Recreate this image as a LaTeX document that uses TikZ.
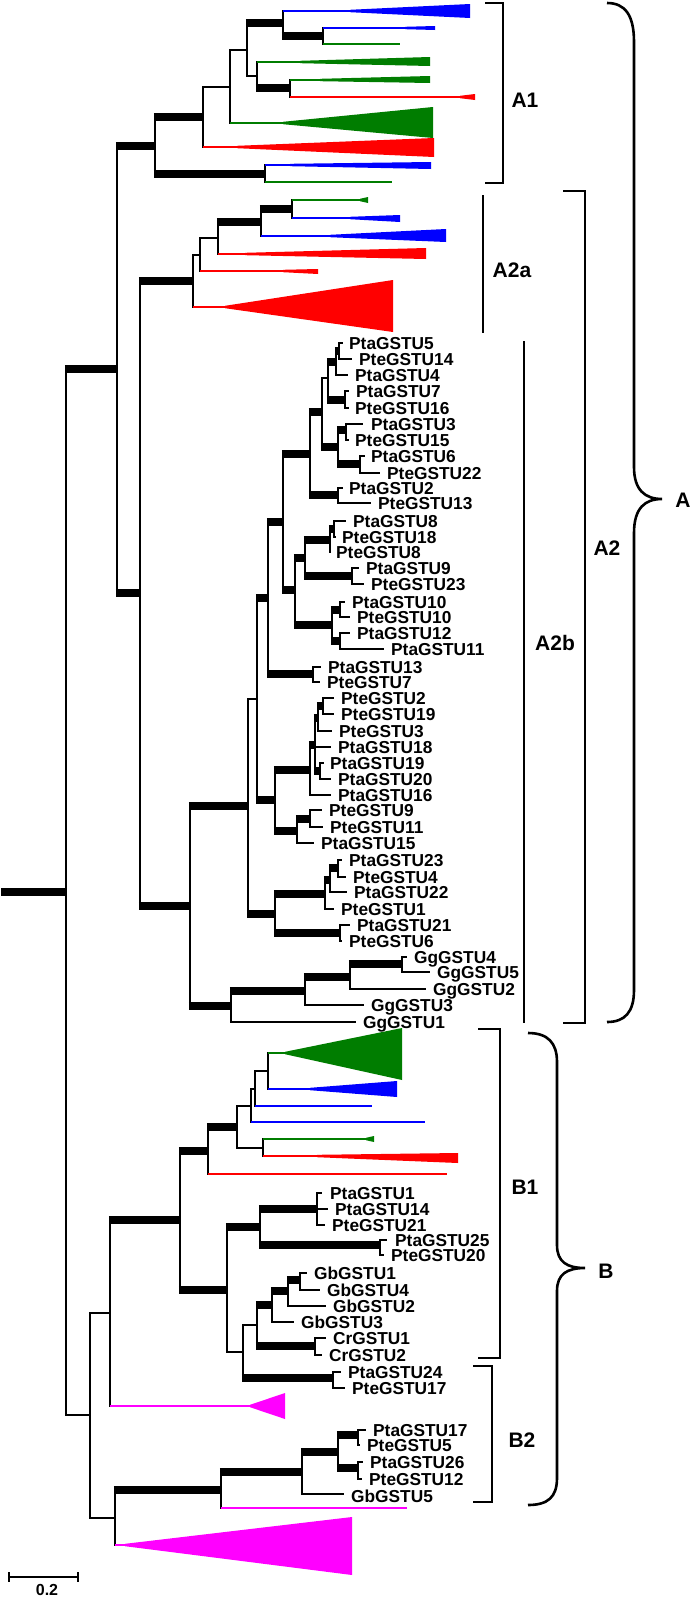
\documentclass[tikz,border=0pt]{standalone}
\usepackage{fontspec}
\setmainfont{Liberation Sans}
\definecolor{blu}{RGB}{0,0,255}
\definecolor{grn}{RGB}{0,125,0}
\definecolor{rd}{RGB}{255,0,0}
\definecolor{mag}{RGB}{255,0,255}
\tikzset{
 thn/.style={line width=2.2pt, line cap=butt},
 thk/.style={line width=8pt, line cap=butt},
 vl/.style={line width=2.5pt, line cap=rect},
 clr/.style={line width=2.4pt, line cap=butt},
 leaf/.style={font=\fontsize{17.3}{18}\selectfont\bfseries, inner sep=0pt, anchor=base west},
 big/.style={font=\fontsize{21}{22}\selectfont\bfseries, inner sep=0pt},
 brk/.style={line width=2.6pt},
}
\newcommand\Hk[3]{\draw[thk] (#1-1.2,#3) -- (#2+1.2,#3);}
\newcommand\Hn[3]{\draw[thn] (#1,#3) -- (#2,#3);}
\newcommand\Vv[3]{\draw[vl] (#1,#2) -- (#1,#3);}
\newcommand\Lf[3]{\node[leaf] (#1) at (#2,#3+6.3) {#1};}
\newcommand\CL[4]{\draw[#1,clr] (#3,#2) -- (#4,#2);}
\newcommand\Tri[7]{\draw[#1,clr] (#3,#2) -- (#4,#2); \fill[#1] (#4,#2-1.2) -- (#5,#6) -- (#5,#7) -- (#4,#2+1.2) -- cycle;}
\begin{document}
\begin{tikzpicture}[x=1pt,y=-1pt]
\useasboundingbox (0,0) rectangle (693,1598);
% root
\draw[thk] (1,892) -- (67.2,892);
\Vv{66}{369}{1415}
\Hk{66}{117}{369}
\Hn{66}{90}{1415}
% A
\Vv{117}{146}{593}
\Hk{117}{155}{146}
\Hk{117}{140}{593}
% A1
\Vv{155}{117}{174}
\Hk{155}{203}{117}
\Hk{155}{265}{174}
\Vv{203}{87}{147}
\Hn{203}{230}{87}
\Tri{rd}{147}{203}{237}{434}{138}{157}
\Vv{230}{50}{123}
\Hn{230}{247}{50}
\Tri{grn}{123}{230}{283}{433}{107}{138}
\Vv{247}{23}{76}
\Hk{247}{283}{23}
\Hn{247}{257}{76}
\Vv{283}{11}{36}
\Tri{blu}{11}{283}{350}{470}{4}{18}
\Hk{283}{323}{36}
\Vv{323}{28}{44}
\Tri{blu}{28}{323}{405}{435}{26}{30}
\CL{grn}{44}{323}{400}
\Vv{257}{62}{88}
\Tri{grn}{62}{257}{300}{430}{57}{66}
\Hk{257}{290}{88}
\Vv{290}{80}{97}
\Tri{grn}{80}{290}{320}{430}{76}{83}
\Tri{rd}{97}{290}{460}{475}{94}{100}
\Vv{265}{165}{182}
\Tri{blu}{165}{265}{290}{431}{162}{169}
\CL{grn}{182}{265}{392}
% A2
\Vv{140}{281}{906}
\Hk{140}{193}{281}
\Hk{140}{190}{906}
% A2a
\Vv{193}{255}{307}
\Hn{193}{200}{255}
\Tri{rd}{307}{193}{225}{393}{280}{332}
\Vv{200}{238}{271}
\Hn{200}{218}{238}
\Tri{rd}{271}{200}{283}{318}{269}{274}
\Vv{218}{222}{254}
\Hk{218}{261}{222}
\Tri{rd}{254}{218}{245}{426}{248}{259}
\Vv{261}{209}{236}
\Hk{261}{292}{209}
\Tri{blu}{236}{261}{330}{446}{229}{242}
\Vv{292}{200}{218}
\Tri{grn}{200}{292}{360}{368}{197}{203}
\Tri{blu}{218}{292}{350}{400}{215}{222}
% A2b
\Vv{190}{806}{1006}
\Hk{190}{248}{806}
\Hk{190}{231}{1006}
\Vv{248}{699}{914}
\Hn{248}{257}{699}
\Hk{248}{275}{914}
\Vv{257}{598}{800}
\Hk{257}{268}{598}
\Hk{257}{275}{800}
\Vv{268}{522}{674}
\Hk{268}{283}{522}
\Hk{268}{313}{674}
\Vv{313}{667}{682}
\Hn{313}{321}{667} \Lf{PtaGSTU13}{328}{667}
\Hn{313}{320}{682} \Lf{PteGSTU7}{327}{682}
\Vv{283}{454}{590}
\Hk{283}{310}{454}
\Hk{283}{295}{590}
\Vv{310}{412}{495}
\Hk{310}{322}{412}
\Hk{310}{338}{495}
\Vv{322}{378}{447}
\Hn{322}{328}{378}
\Hk{322}{338}{447}
\Vv{328}{362}{400}
\Hk{328}{336}{362}
\Hk{328}{345}{400}
\Vv{336}{351}{375}
\Hk{336}{339}{351}
\Hn{336}{348}{375} \Lf{PtaGSTU4}{355}{375}
\Vv{339}{343}{359}
\Hn{339}{343}{343} \Lf{PtaGSTU5}{349}{343}
\Hn{339}{352}{359} \Lf{PteGSTU14}{359}{359}
\Vv{345}{391}{408}
\Hn{345}{349}{391} \Lf{PtaGSTU7}{356}{391}
\Hn{345}{349}{408} \Lf{PteGSTU16}{355}{408}
\Vv{338}{430}{464}
\Hk{338}{346}{430}
\Hk{338}{360}{464}
\Vv{346}{424}{440}
\Hn{346}{363}{424} \Lf{PtaGSTU3}{371}{424}
\Hn{346}{349}{440} \Lf{PteGSTU15}{355}{440}
\Vv{360}{456}{473}
\Hn{360}{365}{456} \Lf{PtaGSTU6}{371}{456}
\Hn{360}{380}{473} \Lf{PteGSTU22}{387}{473}
\Vv{338}{488}{503}
\Hn{338}{343}{488} \Lf{PtaGSTU2}{349}{488}
\Hn{338}{371}{503} \Lf{PteGSTU13}{378}{503}
\Vv{295}{558}{625}
\Hk{295}{305}{558}
\Hk{295}{332}{625}
\Vv{305}{540}{576}
\Hk{305}{330}{540}
\Hk{305}{352}{576}
\Vv{330}{529}{552}
\Hk{330}{334}{529}
\Hn{330}{331}{552} \Lf{PteGSTU8}{336}{552}
\Vv{334}{521}{537}
\Hn{334}{346}{521} \Lf{PtaGSTU8}{353}{521}
\Hn{334}{336}{537} \Lf{PteGSTU18}{342}{537}
\Vv{352}{568}{584}
\Hn{352}{359}{568} \Lf{PtaGSTU9}{366}{568}
\Hn{352}{364}{584} \Lf{PteGSTU23}{371}{584}
\Vv{332}{610}{641}
\Hk{332}{340}{610}
\Hk{332}{340}{641}
\Vv{340}{602}{617}
\Hn{340}{345}{602} \Lf{PtaGSTU10}{352}{602}
\Hn{340}{350}{617} \Lf{PteGSTU10}{357}{617}
\Vv{340}{633}{649}
\Hn{340}{350}{633} \Lf{PtaGSTU12}{357}{633}
\Hn{340}{384}{649} \Lf{PtaGSTU11}{391}{649}
\Vv{275}{770}{831}
\Hk{275}{310}{770}
\Hk{275}{297}{831}
\Vv{310}{745}{795}
\Hk{310}{315}{745}
\Hn{310}{331}{795} \Lf{PtaGSTU16}{338}{795}
\Vv{315}{718}{771}
\Hk{315}{318}{718}
\Hn{315}{331}{747} \Lf{PtaGSTU18}{338}{747}
\Hk{315}{320}{771}
\Vv{318}{706}{731}
\Hk{318}{323}{706}
\Hn{318}{332}{731} \Lf{PteGSTU3}{339}{731}
\Vv{323}{698}{714}
\Hn{323}{334}{698} \Lf{PteGSTU2}{341}{698}
\Hn{323}{334}{714} \Lf{PteGSTU19}{341}{714}
\Vv{320}{763}{779}
\Hn{320}{324}{763} \Lf{PtaGSTU19}{330}{763}
\Hn{320}{331}{779} \Lf{PtaGSTU20}{338}{779}
\Vv{297}{819}{843}
\Hk{297}{310}{819}
\Hn{297}{314}{843} \Lf{PtaGSTU15}{321}{843}
\Vv{310}{810}{827}
\Hn{310}{322}{810} \Lf{PteGSTU9}{329}{810}
\Hn{310}{323}{827} \Lf{PteGSTU11}{330}{827}
\Vv{275}{894}{933}
\Hk{275}{325}{894}
\Hk{275}{340}{933}
\Vv{325}{880}{909}
\Hk{325}{330}{880}
\Hn{325}{334}{909} \Lf{PteGSTU1}{341}{909}
\Vv{330}{868}{892}
\Hk{330}{338}{868}
\Hn{330}{347}{892} \Lf{PtaGSTU22}{354}{892}
\Vv{338}{860}{877}
\Hn{338}{342}{860} \Lf{PtaGSTU23}{349}{860}
\Hn{338}{346}{877} \Lf{PteGSTU4}{353}{877}
\Vv{340}{925}{941}
\Hn{340}{350}{925} \Lf{PtaGSTU21}{357}{925}
\Hn{340}{342}{941} \Lf{PteGSTU6}{349}{941}
% Gg
\Vv{231}{991}{1022}
\Hk{231}{305}{991}
\Hn{231}{356}{1022} \Lf{GgGSTU1}{363}{1022}
\Vv{305}{977}{1005}
\Hk{305}{350}{977}
\Hn{305}{364}{1005} \Lf{GgGSTU3}{371}{1005}
\Vv{350}{964}{989}
\Hk{350}{402}{964}
\Hn{350}{426}{989} \Lf{GgGSTU2}{433}{989}
\Vv{402}{957}{972}
\Hn{402}{407}{957} \Lf{GgGSTU4}{414}{957}
\Hn{402}{430}{972} \Lf{GgGSTU5}{437}{972}
% B
\Vv{90}{1313}{1518}
\Hn{90}{110}{1313}
\Hn{90}{115}{1518}
\Vv{110}{1220}{1406}
\Hk{110}{180}{1220}
\Tri{mag}{1406}{110}{250}{285}{1393}{1419}
\Vv{180}{1151}{1290}
\Hk{180}{208}{1151}
\Hk{180}{227}{1290}
\Vv{208}{1127}{1174}
\Hk{208}{237}{1127}
\CL{rd}{1174}{208}{447}
\Vv{237}{1106}{1148}
\Hn{237}{251}{1106}
\Hn{237}{263}{1148}
\Vv{263}{1139}{1156}
\Tri{grn}{1139}{263}{366}{374}{1136}{1142}
\Tri{rd}{1156}{263}{317}{458}{1153}{1163}
\Vv{251}{1089}{1122}
\Hn{251}{255}{1089}
\CL{blu}{1122}{251}{425}
\Vv{255}{1071}{1106}
\Hn{255}{268}{1071}
\CL{blu}{1106}{255}{372}
\Vv{268}{1053}{1089}
\Tri{grn}{1053}{268}{285}{402}{1028}{1080}
\Tri{blu}{1089}{268}{310}{397}{1081}{1097}
\Vv{227}{1227}{1352}
\Hk{227}{260}{1227}
\Hn{227}{243}{1352}
\Vv{260}{1209}{1245}
\Hk{260}{317}{1209}
\Hk{260}{380}{1245}
\Vv{317}{1193}{1225}
\Hn{317}{322}{1193} \Lf{PtaGSTU1}{330}{1193}
\Hn{317}{328}{1209} \Lf{PtaGSTU14}{335}{1209}
\Hn{317}{325}{1225} \Lf{PteGSTU21}{332}{1225}
\Vv{380}{1240}{1255}
\Hn{380}{387}{1240} \Lf{PtaGSTU25}{395}{1240}
\Hn{380}{384}{1255} \Lf{PteGSTU20}{391}{1255}
\Vv{243}{1325}{1378}
\Hn{243}{257}{1325}
\Hk{243}{333}{1378}
\Vv{333}{1372}{1388}
\Hn{333}{341}{1372} \Lf{PtaGSTU24}{348}{1372}
\Hn{333}{345}{1388} \Lf{PteGSTU17}{352}{1388}
\Vv{257}{1305}{1346}
\Hk{257}{272}{1305}
\Hk{257}{315}{1346}
\Vv{315}{1338}{1355}
\Hn{315}{326}{1338} \Lf{CrGSTU1}{333}{1338}
\Hn{315}{322}{1355} \Lf{CrGSTU2}{329}{1355}
\Vv{272}{1291}{1322}
\Hk{272}{288}{1291}
\Hn{272}{294}{1322} \Lf{GbGSTU3}{301}{1322}
\Vv{288}{1280}{1306}
\Hk{288}{300}{1280}
\Hn{288}{326}{1306} \Lf{GbGSTU2}{333}{1306}
\Vv{300}{1273}{1290}
\Hn{300}{307}{1273} \Lf{GbGSTU1}{314}{1273}
\Hn{300}{320}{1290} \Lf{GbGSTU4}{327}{1290}
% B2
\Vv{115}{1490}{1545}
\Hk{115}{221}{1490}
\Tri{mag}{1545}{115}{125}{352}{1517}{1575}
\Vv{221}{1472}{1508}
\Hk{221}{302}{1472}
\CL{mag}{1508}{221}{407}
\Vv{302}{1452}{1494}
\Hk{302}{338}{1452}
\Hn{302}{344}{1494} \Lf{GbGSTU5}{351}{1496}
\Vv{338}{1435}{1468}
\Hk{338}{358}{1435}
\Hk{338}{358}{1468}
\Vv{358}{1430}{1445}
\Hn{358}{366}{1430} \Lf{PtaGSTU17}{373}{1430}
\Hn{358}{360}{1445} \Lf{PteGSTU5}{367}{1445}
\Vv{358}{1462}{1479}
\Hn{358}{363}{1462} \Lf{PtaGSTU26}{370}{1462}
\Hn{358}{362}{1479} \Lf{PteGSTU12}{369}{1479}
% brackets
\draw[brk] (485,3) -- (503,3) -- (503,183) -- (485,183);
\node[big] (lA1) at (525,100) {A1};
\draw[brk] (483,195) -- (483,333);
\node[big] (lA2a) at (512,270) {A2a};
\draw[brk] (563,191) -- (585,191) -- (585,1023) -- (563,1023);
\node[big] (lA2) at (607,548) {A2};
\draw[brk] (524,341) -- (524,1023);
\node[big] (lA2b) at (555,643) {A2b};
\draw[brk] (607,3) .. controls (625,3) and (634,15) .. (634,42) -- (634,467) .. controls (634,490) and (645,499) .. (662,499) .. controls (645,499) and (634,508) .. (634,533) -- (634,990) .. controls (634,1012) and (625,1022) .. (607,1022);
\node[big] (lA) at (683,500) {A};
\draw[brk] (478,1029) -- (500,1029) -- (500,1358) -- (478,1358);
\node[big] (lB1) at (525,1187) {B1};
\draw[brk] (473,1366) -- (492,1366) -- (492,1502) -- (473,1502);
\node[big] (lB2) at (522,1440) {B2};
\draw[brk] (528,1033) .. controls (548,1033) and (557,1043) .. (557,1062) -- (557,1245) .. controls (557,1262) and (567,1268) .. (585,1268) .. controls (567,1268) and (557,1274) .. (557,1291) -- (557,1478) .. controls (557,1497) and (548,1505) .. (528,1505);
\node[big] (lB) at (606,1271) {B};
% scale bar
\draw[line width=2pt] (9,1577) -- (78,1577);
\draw[line width=2pt] (9,1572) -- (9,1582);
\draw[line width=2pt] (78,1572) -- (78,1582);
\node[font=\fontsize{16}{16}\selectfont\bfseries, inner sep=0pt] (sc) at (47,1590) {0.2};
\end{tikzpicture}
\end{document}
